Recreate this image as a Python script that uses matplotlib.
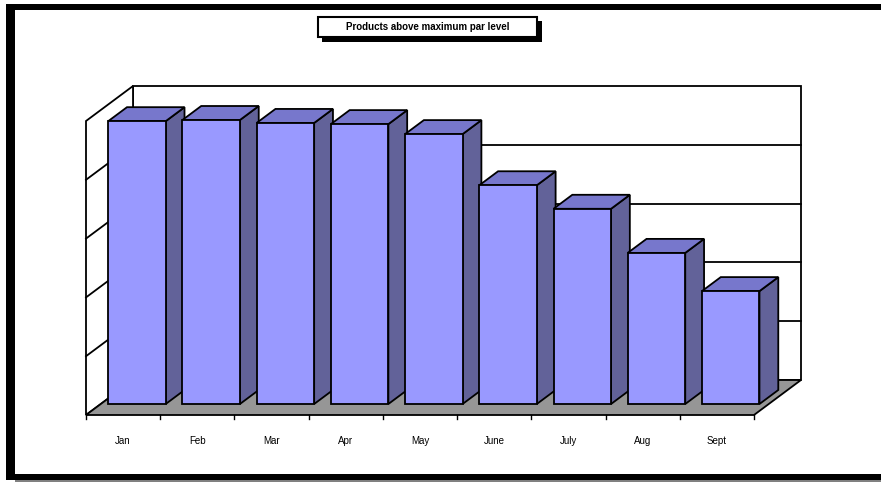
import matplotlib
matplotlib.use("Agg")
import matplotlib.pyplot as plt
from matplotlib.patches import Polygon, Rectangle

categories = ["Jan", "Feb", "Mar", "Apr", "May", "June", "July", "Aug", "Sept"]
values = [48.1, 48.3, 47.8, 47.6, 45.9, 37.2, 33.2, 25.7, 19.2]
y_ticks = [0, 10, 20, 30, 40, 50]
title = "Products above maximum par level"

W, H = 881, 483
fig = plt.figure(figsize=(W / 100, H / 100), dpi=100)
fig.patch.set_facecolor("white")

def px(x, y):
    return x / W, 1 - y / H

def fig_rect(x0, y0, x1, y1, **kw):
    fx0, fy1 = px(x0, y0)
    fx1, fy0 = px(x1, y1)
    r = Rectangle((fx0, fy0), fx1 - fx0, fy1 - fy0, transform=fig.transFigure, **kw)
    fig.add_artist(r)
    return r

# outer chart frame (thick border with shadow look)
fig_rect(6, 4, 881, 10, facecolor="black", edgecolor="none", zorder=5)
fig_rect(6, 4, 15, 480, facecolor="black", edgecolor="none", zorder=5)
fig_rect(6, 474, 881, 480, facecolor="black", edgecolor="none", zorder=5)
fig_rect(15, 480, 881, 482, facecolor="#808080", edgecolor="none", zorder=4)

# axes region (front-left floor corner at x=86,y=415 ; back wall top-right at 803,86)
n = len(categories)
Dx = 47 / 74.2          # depth offset in category units
Dy = 35 / 5.88          # depth offset in value units
ymax = y_ticks[-1]

l, b = px(86, 415)
r, t = px(801, 86)
ax = fig.add_axes([l, b, r - l, t - b])
ax.set_xlim(0, n + Dx)
ax.set_ylim(0, ymax + Dy)
ax.axis("off")

lw = 1.3
# back wall
ax.add_patch(Polygon([(Dx, Dy), (n + Dx, Dy), (n + Dx, ymax + Dy), (Dx, ymax + Dy)],
                     closed=True, facecolor="white", edgecolor="black", lw=lw, zorder=1, clip_on=False))
# left wall
ax.add_patch(Polygon([(0, 0), (Dx, Dy), (Dx, ymax + Dy), (0, ymax)],
                     closed=True, facecolor="white", edgecolor="black", lw=lw, zorder=1, clip_on=False))
# floor
ax.add_patch(Polygon([(0, 0), (n, 0), (n + Dx, Dy), (Dx, Dy)],
                     closed=True, facecolor="#969696", edgecolor="black", lw=lw, zorder=2, clip_on=False))
# gridlines
for v in y_ticks[1:-1]:
    ax.plot([Dx, n + Dx], [v + Dy, v + Dy], color="black", lw=lw, zorder=1.5, clip_on=False)
    ax.plot([0, Dx], [v, v + Dy], color="black", lw=lw, zorder=1.5, clip_on=False)
# category ticks
for i in range(n + 1):
    ax.plot([i, i], [0, -0.6], color="black", lw=1.0, zorder=2, clip_on=False)

# bars
f1, f2 = 0.314, 0.714
a, w = 0.10, 0.775
front_c, top_c, side_c = "#9999ff", "#7777cc", "#626299"
for i, v in enumerate(values):
    ox1, oy1 = f1 * Dx, f1 * Dy
    ox2, oy2 = f2 * Dx, f2 * Dy
    x0 = i + a
    x1 = i + a + w
    z = 3 + i * 0.1
    side = [(x1 + ox1, oy1), (x1 + ox2, oy2), (x1 + ox2, v + oy2), (x1 + ox1, v + oy1)]
    top = [(x0 + ox1, v + oy1), (x1 + ox1, v + oy1), (x1 + ox2, v + oy2), (x0 + ox2, v + oy2)]
    front = [(x0 + ox1, oy1), (x1 + ox1, oy1), (x1 + ox1, v + oy1), (x0 + ox1, v + oy1)]
    ax.add_patch(Polygon(side, closed=True, facecolor=side_c, edgecolor="black", lw=lw,
                         zorder=z, clip_on=False, joinstyle="miter"))
    ax.add_patch(Polygon(top, closed=True, facecolor=top_c, edgecolor="black", lw=lw,
                         zorder=z + 0.01, clip_on=False, joinstyle="miter"))
    ax.add_patch(Polygon(front, closed=True, facecolor=front_c, edgecolor="black", lw=lw,
                         zorder=z + 0.02, clip_on=False, joinstyle="miter"))

# category labels
for i, c in enumerate(categories):
    ax.text(i + 0.5, -4.5, c, ha="center", va="center", fontsize=7,
            family="Liberation Sans", color="black", clip_on=False)

# title box with shadow
fig_rect(322, 21, 542, 42, facecolor="black", edgecolor="none", zorder=6)
fig_rect(318, 17, 537, 37, facecolor="white", edgecolor="black", lw=1.5, zorder=7)
tx, ty = px(427.5, 27)
fig.text(tx, ty, title, ha="center", va="center", fontsize=7, fontweight="bold",
         family="Liberation Sans", zorder=8)

fig.savefig("out.png", dpi=100)
